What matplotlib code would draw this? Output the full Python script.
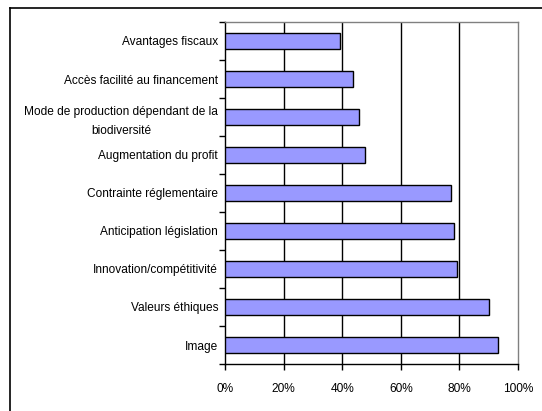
import matplotlib.pyplot as plt
from matplotlib.lines import Line2D
import numpy as np

# motivations, listed top to bottom
categories = [
    "Avantages fiscaux",
    "Accès facilité au financement",
    "Mode de production dépendant de la\nbiodiversité",
    "Augmentation du profit",
    "Contrainte réglementaire",
    "Anticipation législation",
    "Innovation/compétitivité",
    "Valeurs éthiques",
    "Image",
]
values = [39.3, 43.6, 45.8, 47.7, 77.2, 78.3, 79.1, 90.1, 93.1]
x_ticks = [0, 20, 40, 60, 80, 100]

plt.rcParams['font.family'] = ['Liberation Sans', 'DejaVu Sans']

fig = plt.figure(figsize=(5.42, 4.11), dpi=100)
ax = fig.add_axes([225 / 542, 47 / 411, 293 / 542, 342 / 411])

pos = np.arange(len(categories))[::-1]
ax.barh(pos, values, height=0.42, color='#9999ff', edgecolor='black',
        linewidth=1, zorder=3)

ax.set_xlim(0, 100)
ax.set_ylim(-0.5, len(categories) - 0.5)

for v in x_ticks[1:-1]:
    ax.axvline(v, color='black', linewidth=1, zorder=1)

ax.set_xticks(x_ticks)
ax.set_xticklabels([f"{v}%" for v in x_ticks], fontsize=8.6)
ax.tick_params(axis='x', direction='out', length=4, width=1, pad=10)

ax.set_yticks(pos)
ax.set_yticklabels(categories, fontsize=8.6, linespacing=1.75,
                   multialignment='center')
ax.tick_params(axis='y', which='major', length=0, pad=5)
ax.set_yticks(np.arange(-0.5, len(categories)), minor=True)
ax.tick_params(axis='y', which='minor', direction='out', length=4, width=1)

for side in ['top', 'right']:
    ax.spines[side].set_color('#808080')
    ax.spines[side].set_linewidth(1)
for side in ['left', 'bottom']:
    ax.spines[side].set_color('black')
    ax.spines[side].set_linewidth(1)

# outer chart frame
fig.add_artist(Line2D([10 / 542, 10 / 542], [0, 1 - 8 / 411],
                      color='black', linewidth=1.2, transform=fig.transFigure))
fig.add_artist(Line2D([10 / 542, 1], [1 - 8 / 411, 1 - 8 / 411],
                      color='black', linewidth=1.2, transform=fig.transFigure))

fig.savefig("out.png", dpi=100)
